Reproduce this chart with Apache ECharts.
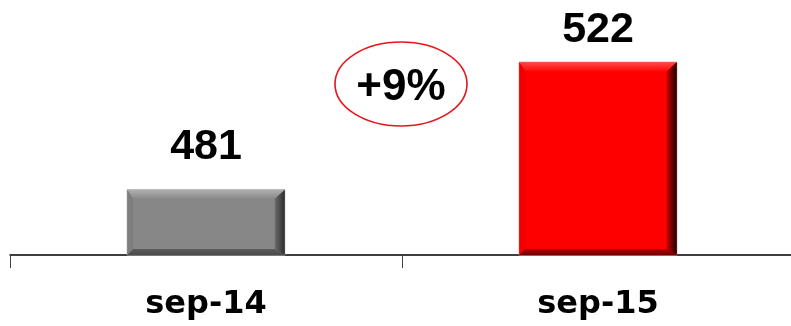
<!DOCTYPE html>
<html>
<head>
<meta charset="utf-8">
<script src="https://cdn.jsdelivr.net/npm/echarts@6/dist/echarts.min.js"></script>
<style>
  html, body { margin: 0; padding: 0; background: #ffffff; overflow: hidden; }
  #chart { width: 794px; height: 326px; }
</style>
</head>
<body>
<div id="chart"></div>
<script>
// Period labels and the value recorded for each
const categories = ['sep-14', 'sep-15'];
const values = [481, 522];

// Year-over-year change shown in the ellipse
const growthPct = Math.round((values[1] / values[0] - 1) * 100);

// Bevel palettes per bar: face, top, left, right, bottom
const palettes = [
  { face: '#878787', rim: '#b4b4b4', top: ['#b0b0b0', '#8a8a8a'], left: '#7e7e7e', right: ['#6a6a6a', '#2c2c2c'], bottom: ['#5c5c5c', '#4a4a4a'] },
  { face: '#ff0000', rim: '#f08080', top: ['#ff4a4a', '#ff0808'], left: '#ee0000', right: ['#c80000', '#1a0000'], bottom: ['#b00000', '#700000'] }
];
// Gap between each bar top and the centre of its value label
const labelGaps = [43, 32];

const FONT = '"Liberation Sans", Arial, sans-serif';
const AXIS_FONT = '"DejaVu Sans", "Liberation Sans", Arial, sans-serif';

function renderBevelBar(params, api) {
  const idx = params.dataIndex;
  const v = api.value(1);
  const top = api.coord([api.value(0), v]);
  const base = api.coord([api.value(0), 460]);
  const w = api.size([1, 0])[0] * 0.402;
  const x0 = top[0] - w / 2, x1 = top[0] + w / 2;
  const y0 = top[1], y1 = base[1];
  const bt = 9, bb = 6, bl = 6, br = 10;
  const p = palettes[idx];
  const vgrad = (c) => new echarts.graphic.LinearGradient(0, 0, 0, 1, [{ offset: 0, color: c[0] }, { offset: 1, color: c[1] }]);
  const hgrad = (c) => new echarts.graphic.LinearGradient(0, 0, 1, 0, [{ offset: 0, color: c[0] }, { offset: 1, color: c[1] }]);
  return {
    type: 'group',
    children: [
      { type: 'rect', shape: { x: x0, y: y0, width: x1 - x0, height: y1 - y0 }, style: { fill: p.face, stroke: p.rim, lineWidth: 1 } },
      { type: 'polygon', shape: { points: [[x0, y0], [x1, y0], [x1 - br, y0 + bt], [x0 + bl, y0 + bt]] }, style: { fill: vgrad(p.top) } },
      { type: 'polygon', shape: { points: [[x0, y0], [x0 + bl, y0 + bt], [x0 + bl, y1 - bb], [x0, y1]] }, style: { fill: p.left } },
      { type: 'polygon', shape: { points: [[x1, y0], [x1, y1], [x1 - br, y1 - bb], [x1 - br, y0 + bt]] }, style: { fill: hgrad(p.right) } },
      { type: 'polygon', shape: { points: [[x0, y1], [x1, y1], [x1 - br, y1 - bb], [x0 + bl, y1 - bb]] }, style: { fill: vgrad(p.bottom) } },
      { type: 'text', x: top[0], y: y0 - labelGaps[idx], style: { text: String(v), fill: '#000', font: 'bold 43px ' + FONT, align: 'center', verticalAlign: 'middle' } }
    ]
  };
}

const chart = echarts.init(document.getElementById('chart'), null, { renderer: 'canvas' });
chart.setOption({
  animation: false,
  backgroundColor: '#ffffff',
  grid: { left: 10, right: 0, top: 0, bottom: 71, containLabel: false },
  xAxis: {
    type: 'category',
    data: categories,
    boundaryGap: true,
    axisLine: { lineStyle: { color: '#000', width: 1.5 } },
    axisTick: { show: true, length: 13, lineStyle: { color: '#444', width: 1 } },
    axisLabel: { color: '#000', fontFamily: AXIS_FONT, fontWeight: 'bold', fontSize: 32, margin: 34 }
  },
  yAxis: {
    type: 'value',
    min: 460,
    max: 542,
    show: false,
    splitLine: { show: false }
  },
  series: [{
    type: 'custom',
    renderItem: renderBevelBar,
    data: categories.map((c, i) => [i, values[i]]),
    clip: false
  }],
  graphic: [
    { type: 'ellipse', shape: { cx: 401, cy: 84, rx: 66, ry: 42 }, style: { fill: 'none', stroke: '#e8141c', lineWidth: 1.6 } },
    { type: 'text', x: 401, y: 88, style: { text: '+' + growthPct + '%', fill: '#000', font: 'bold 44px ' + FONT, align: 'center', verticalAlign: 'middle' } }
  ]
});
</script>
</body>
</html>
